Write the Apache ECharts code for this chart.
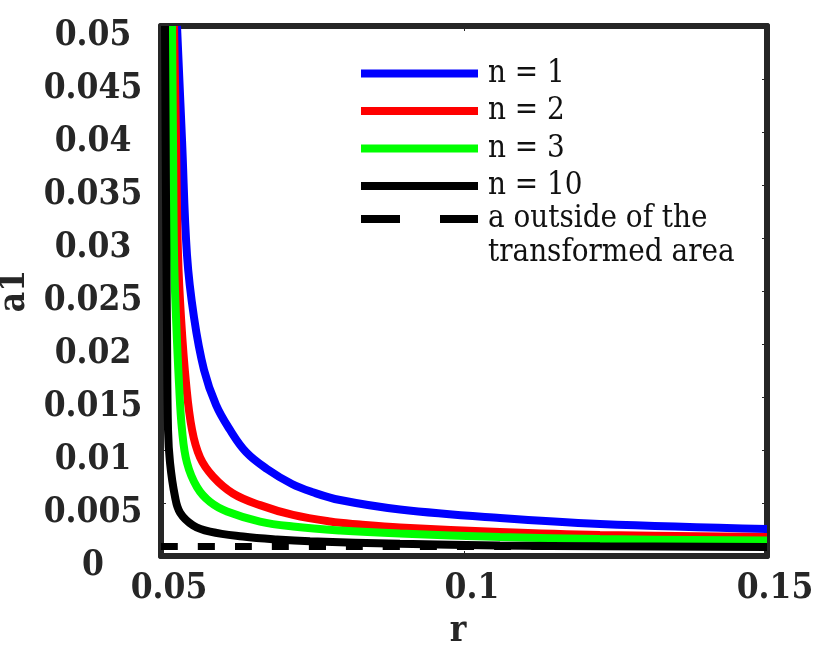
<!DOCTYPE html>
<html>
<head>
<meta charset="utf-8">
<script src="https://cdn.jsdelivr.net/npm/echarts@6/dist/echarts.min.js"></script>
<style>
  html, body { margin: 0; padding: 0; background: #fff; }
  #chart { width: 825px; height: 652px; }
</style>
</head>
<body>
<div id="chart"></div>
<script>
// values
const xTicks = [0.05, 0.1, 0.15];
const yTicks = [0, 0.005, 0.01, 0.015, 0.02, 0.025, 0.03, 0.035, 0.04, 0.045, 0.05];

const r_n1 = [0.05264, 0.05347, 0.05429, 0.05545, 0.0571, 0.05908, 0.06139, 0.06403, 0.06749, 0.07162, 0.07492, 0.07954, 0.08944, 0.10594, 0.12244, 0.15];
const a1_n1 = [0.05, 0.0392, 0.0284, 0.0225, 0.01755, 0.01425, 0.01189, 0.00981, 0.00821, 0.00679, 0.00604, 0.00528, 0.00439, 0.00358, 0.00302, 0.00255];

const r_n2 = [0.05215, 0.05248, 0.05281, 0.0533, 0.05413, 0.05512, 0.05644, 0.05858, 0.06188, 0.06634, 0.07178, 0.07789, 0.08284, 0.08944, 0.10594, 0.12244, 0.15];
const a1_n2 = [0.05, 0.0392, 0.0284, 0.0225, 0.0163, 0.0119, 0.0093, 0.0075, 0.0059, 0.0048, 0.00387, 0.00325, 0.00297, 0.00269, 0.00226, 0.00198, 0.00179];

const r_n3 = [0.05182, 0.05198, 0.05215, 0.05248, 0.05297, 0.05347, 0.05429, 0.05594, 0.05809, 0.06089, 0.06634, 0.07178, 0.07954, 0.08944, 0.10594, 0.12244, 0.15];
const a1_n3 = [0.05, 0.0392, 0.0284, 0.0225, 0.0163, 0.0119, 0.0088, 0.0065, 0.0051, 0.0042, 0.00325, 0.00278, 0.00241, 0.00212, 0.00179, 0.0016, 0.00146];

const r_n10 = [0.05066, 0.05083, 0.05099, 0.05116, 0.05149, 0.05231, 0.05314, 0.05528, 0.05809, 0.06353, 0.06914, 0.07459, 0.08944, 0.10594, 0.12244, 0.15];
const a1_n10 = [0.05, 0.0336, 0.0213, 0.0119, 0.0088, 0.0056, 0.0041, 0.0029, 0.0023, 0.00184, 0.00156, 0.00139, 0.00115, 0.00099, 0.00091, 0.00085];

const r_out = [0.05, 0.15];
const a1_out = [0.0009, 0.0009];

const pairs = (xs, ys) => xs.map((x, i) => [x, ys[i]]);

const serif = '"DejaVu Serif Condensed", "DejaVu Serif", serif';
const axisColor = '#262626';

let myChart = echarts.init(document.getElementById('chart'));

function curve(name, xs, ys, color, type, width) {
  return {
    name: name,
    type: 'line',
    data: pairs(xs, ys),
    showSymbol: false,
    symbol: 'none',
    smooth: 0.4,
    clip: true,
    lineStyle: { color: color, width: width, type: type },
    itemStyle: { color: color },
    z: 3
  };
}

function frameAxis(extra) {
  return Object.assign({
    type: 'value',
    axisLine: { show: true, onZero: false, lineStyle: { color: axisColor, width: 6 } },
    axisTick: { show: true, inside: true, length: 5, lineStyle: { color: axisColor, width: 1 } },
    splitLine: { show: false }
  }, extra);
}

let option = {
  backgroundColor: '#fff',
  animation: false,
  grid: { left: 161, right: 58, top: 26, bottom: 96, outerBoundsMode: 'none', containLabel: false },
  xAxis: [
    frameAxis({
      min: xTicks[0],
      max: xTicks[xTicks.length - 1],
      interval: 0.05,
      name: 'r',
      nameLocation: 'middle',
      nameGap: 58,
      nameTextStyle: { fontFamily: serif, fontWeight: 'bold', fontSize: 35, color: axisColor, padding: [0, 12, 0, 0] },
      axisLabel: { fontFamily: serif, fontWeight: 'bold', fontSize: 35, color: axisColor, margin: 15, padding: [0, 0, 0, 16] }
    }),
    frameAxis({
      position: 'top',
      min: xTicks[0],
      max: xTicks[xTicks.length - 1],
      interval: 0.05,
      axisLabel: { show: false }
    })
  ],
  yAxis: [
    frameAxis({
      min: yTicks[0],
      max: yTicks[yTicks.length - 1],
      interval: 0.005,
      name: 'a1',
      nameLocation: 'middle',
      nameGap: 118,
      nameTextStyle: { fontFamily: serif, fontWeight: 'bold', fontSize: 35, color: axisColor },
      axisLabel: { fontFamily: serif, fontWeight: 'bold', fontSize: 35, color: axisColor, margin: 68, align: 'center', verticalAlign: 'top', lineHeight: 20 }
    }),
    frameAxis({
      position: 'right',
      min: yTicks[0],
      max: yTicks[yTicks.length - 1],
      interval: 0.005,
      axisLabel: { show: false }
    })
  ],
  legend: [
    {
      orient: 'vertical',
      left: 361,
      top: 58,
      padding: 0,
      itemWidth: 117,
      itemHeight: 8,
      itemGap: 6.5,
      icon: 'rect',
      textStyle: { fontFamily: serif, fontSize: 31, color: '#111', lineHeight: 30, padding: [0, 0, 0, 5] },
      data: ['n = 1', 'n = 2', 'n = 3', 'n = 10']
    },
    {
      orient: 'vertical',
      left: 361,
      top: 168,
      padding: 0,
      itemWidth: 117,
      itemHeight: 8,
      // two dashes of the legend sample
      icon: 'path://M0,0 h39 v8 h-39 z M79,0 h38 v8 h-38 z',
      formatter: name => '\n' + name,
      textStyle: { fontFamily: serif, fontSize: 31, color: '#111', lineHeight: 34, padding: [0, 0, 0, 5] },
      data: ['a outside of the\ntransformed area']
    }
  ],
  series: [
    curve('a outside of the\ntransformed area', r_out, a1_out, '#000000', [17, 20], 7),
    curve('n = 1', r_n1, a1_n1, '#0000ff', 'solid', 8),
    curve('n = 2', r_n2, a1_n2, '#ff0000', 'solid', 8),
    curve('n = 3', r_n3, a1_n3, '#00ff00', 'solid', 8),
    curve('n = 10', r_n10, a1_n10, '#000000', 'solid', 8)
  ]
};

myChart.setOption(option);
</script>
</body>
</html>
